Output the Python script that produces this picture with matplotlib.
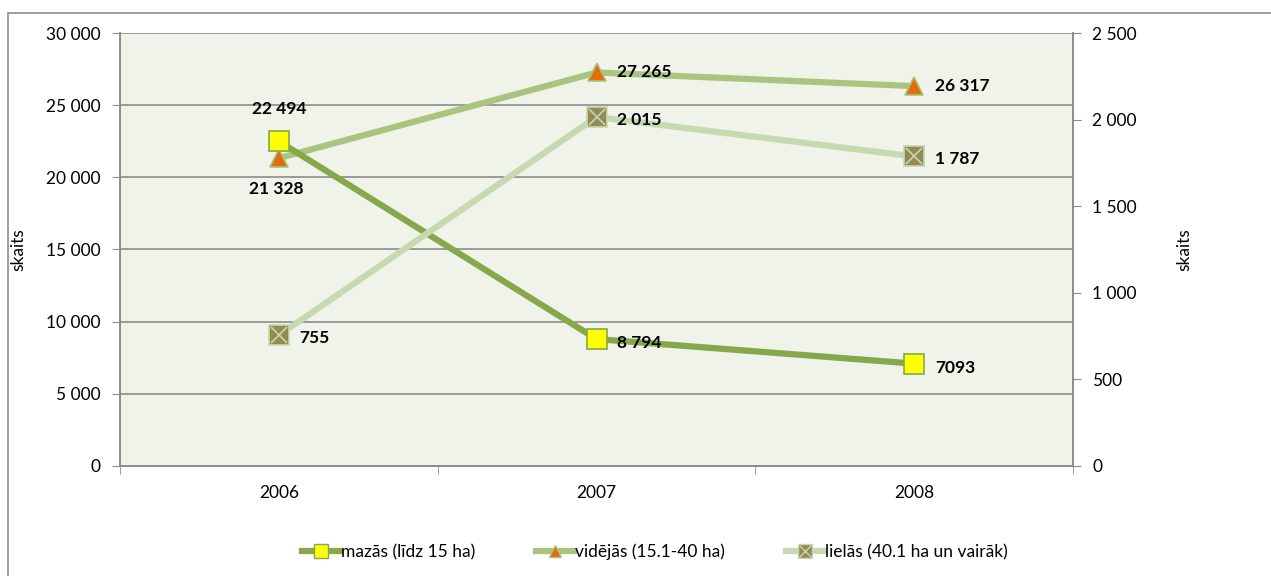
import matplotlib.pyplot as plt
from matplotlib.patches import Rectangle
from matplotlib.lines import Line2D

plt.rcParams['font.family'] = ['Lato', 'DejaVu Sans']

years = ['2006', '2007', '2008']
mazas = [22494, 8794, 7093]
videjas = [21328, 27265, 26317]
lielas = [755, 2015, 1787]
lbl_mazas = ['22 494', '8 794', '7093']
lbl_videjas = ['21 328', '27 265', '26 317']
lbl_lielas = ['755', '2 015', '1 787']
names = ['mazās (līdz 15 ha)', 'vidējās (15.1-40 ha)', 'lielās (40.1 ha un vairāk)']

c1, c2, c3 = '#86a84a', '#a9c47f', '#c6d9b0'

fig = plt.figure(figsize=(12.71, 5.76), dpi=100)
fig.patches.append(Rectangle((8/1271, -0.01), 1.02, 1 - 13/576 + 0.01, transform=fig.transFigure,
                             fill=False, ec='#8c8c8c', lw=1.2))
ax = fig.add_axes([120/1271, 1 - 466/576, 953/1271, 433/576])
ax2 = ax.twinx()
ax.set_zorder(1); ax2.set_zorder(2); ax2.patch.set_visible(False)
ax.set_facecolor('#eff3ea')

x = [0, 1, 2]
ax.plot(x, mazas, color=c1, lw=4.5, zorder=3)
ax.plot(x, mazas, 's', ms=14, mfc='#ffff00', mec='#86a84a', mew=1.2, zorder=5)
ax.plot(x, videjas, color=c2, lw=4.5, zorder=2)
ax.plot(x, videjas, '^', ms=13, mfc='#e46c0a', mec='#a9c47f', mew=1.2, zorder=4)
ax2.plot(x, lielas, color=c3, lw=4.5, zorder=2)
ax2.plot(x, lielas, 's', ms=14, mfc='#948a54', mec='#c6d9b0', mew=1.2, zorder=4)
ax2.plot(x, lielas, 'x', ms=11, mec='#c6d9b0', mew=1.2, zorder=5)

ax.set_xlim(-0.5, 2.5)
ax.set_ylim(0, 30000)
ax2.set_ylim(0, 2500)
ax.set_yticks(range(0, 30001, 5000))
ax.set_yticklabels([f'{v:,}'.replace(',', ' ') for v in range(0, 30001, 5000)])
ax2.set_yticks(range(0, 2501, 500))
ax2.set_yticklabels([f'{v:,}'.replace(',', ' ') for v in range(0, 2501, 500)])
ax.grid(axis='y', color='#8c8c8c', lw=1.2)
ax.set_axisbelow(True)
ax.set_xticks(x)
ax.set_xticklabels(years)
ax.set_xticks([-0.5, 0.5, 1.5, 2.5], minor=True)
ax.tick_params(axis='x', which='major', length=0, pad=14, labelsize=12.5)
ax.tick_params(axis='x', which='minor', length=6, color='#8c8c8c')
ax.tick_params(axis='y', length=6, color='#8c8c8c', labelsize=12.5, pad=8)
ax2.tick_params(axis='y', length=6, color='#8c8c8c', labelsize=12.5, pad=8)
for a in (ax, ax2):
    for s in a.spines.values():
        s.set_visible(False)
    for s in ('left', 'right', 'bottom'):
        a.spines[s].set_visible(True)
        a.spines[s].set_color('#8c8c8c')
        a.spines[s].set_linewidth(1.2)
ax.set_ylabel('skaits', fontsize=12.5, labelpad=14)
ax2.set_ylabel('skaits', fontsize=12.5, labelpad=28)

kw = dict(fontsize=12.5, fontweight='bold', va='center')
ax.annotate(lbl_mazas[0], (0, mazas[0]), xytext=(0, 23), textcoords='offset points', ha='center', **kw)
ax.annotate(lbl_videjas[0], (0, videjas[0]), xytext=(-2, -22), textcoords='offset points', ha='center', **kw)
for i in (1, 2):
    ax.annotate(lbl_mazas[i], (i, mazas[i]), xytext=(15, -3), textcoords='offset points', ha='left', **kw)
    ax.annotate(lbl_videjas[i], (i, videjas[i]), xytext=(15, 0), textcoords='offset points', ha='left', **kw)
for i in range(3):
    ax2.annotate(lbl_lielas[i], (i, lielas[i]), xytext=(15, -2), textcoords='offset points', ha='left', **kw)

h1 = Line2D([], [], color=c1, lw=4.5, marker='s', ms=10, mfc='#ffff00', mec='#86a84a')
h2 = Line2D([], [], color=c2, lw=4.5, marker='^', ms=8, mfc='#e46c0a', mec='#a9c47f')
h3a = Line2D([], [], color=c3, lw=4.5, marker='s', ms=10, mfc='#948a54', mec='#c6d9b0')
h3b = Line2D([], [], ls='none', marker='x', ms=8, mec='#c6d9b0', mew=1)
fig.legend([h1, h2, (h3a, h3b)], names, loc='center', bbox_to_anchor=(655/1271, 1 - 552/576), ncol=3,
           frameon=False, fontsize=12.5, handlelength=2.2, handletextpad=0.05, columnspacing=3.5)

fig.savefig('out.png', dpi=100)
